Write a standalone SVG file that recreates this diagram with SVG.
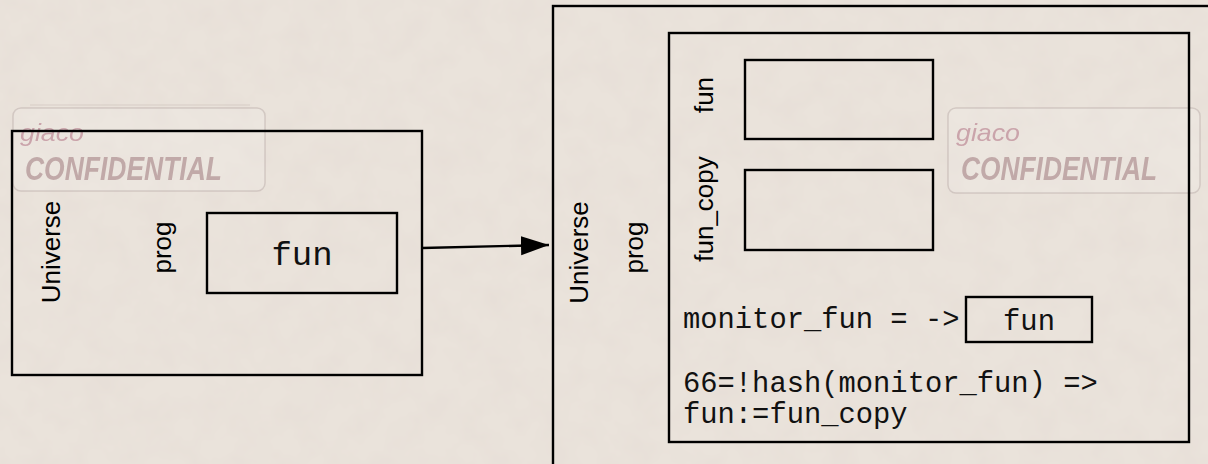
<svg xmlns="http://www.w3.org/2000/svg" width="1208" height="464" viewBox="0 0 1208 464">
  <style>
    .box { fill: none; stroke: #000; stroke-width: 2.4; }
    .lbl { font-family: "Liberation Sans", Arial, Helvetica, sans-serif; font-size: 26px; fill: #000; text-anchor: middle; }
    .code { font-family: "Liberation Mono", "Courier New", monospace; font-size: 28.8px; fill: #111; }
    .wm-box { fill: rgba(255,255,255,0.12); stroke: rgba(140,120,120,0.25); stroke-width: 1.5; }
    .wm-small { font-family: "Liberation Sans", Arial, sans-serif; font-style: italic; font-size: 24px; fill: #c3959f; opacity: 0.8; }
    .wm-big { font-family: "Liberation Sans", Arial, sans-serif; font-style: italic; font-weight: bold; font-size: 33px; fill: #b39697; opacity: 0.75; }
  </style>
  <defs>
    <filter id="grain" x="0" y="0" width="100%" height="100%">
      <feTurbulence type="fractalNoise" baseFrequency="0.035" numOctaves="3" seed="7"/>
      <feColorMatrix type="matrix" values="0 0 0 0 0.7  0 0 0 0 0.6  0 0 0 0 0.58  0.3 0 0 0 -0.1"/>
    </filter>
    <marker id="head" markerUnits="userSpaceOnUse" markerWidth="28" markerHeight="20" refX="28" refY="9.5" orient="auto">
      <path d="M0,0 L28,9.5 L0,19 Z" fill="#000"/>
    </marker>
  </defs>

  <!-- paper background -->
  <rect width="1208" height="464" fill="#eae3db"/>
  <rect width="1208" height="464" filter="url(#grain)"/>

  <!-- watermark stamps -->
  <g id="stamp-left">
    <line x1="30" y1="105" x2="250" y2="105" stroke="rgba(140,120,120,0.2)" stroke-width="1"/>
    <rect class="wm-box" x="13" y="108" width="252" height="83" rx="8"/>
    <text class="wm-small" x="20" y="141" textLength="64" lengthAdjust="spacingAndGlyphs">giaco</text>
    <text class="wm-big" x="25" y="180" textLength="197" lengthAdjust="spacingAndGlyphs">CONFIDENTIAL</text>
  </g>
  <g id="stamp-right">
    <rect class="wm-box" x="948" y="108" width="252" height="85" rx="8"/>
    <text class="wm-small" x="956" y="141" textLength="64" lengthAdjust="spacingAndGlyphs">giaco</text>
    <text class="wm-big" x="961" y="180" textLength="196" lengthAdjust="spacingAndGlyphs">CONFIDENTIAL</text>
  </g>

  <!-- before: universe containing prog with fun -->
  <g id="universe-before">
    <rect class="box" x="12" y="131" width="410" height="244"/>
    <text class="lbl" transform="translate(60,252) rotate(-90)">Universe</text>
  </g>
  <g id="prog-before">
    <text class="lbl" transform="translate(171,247.5) rotate(-90)">prog</text>
  </g>
  <g id="fun-before">
    <rect class="box" x="207" y="213" width="190" height="80"/>
    <text x="302" y="265" style="font-family: 'Liberation Mono', 'Courier New', monospace; font-size: 34px; text-anchor: middle; fill: #111;">fun</text>
  </g>

  <!-- transition -->
  <g id="connectors">
    <line x1="422" y1="248" x2="549" y2="245" stroke="#000" stroke-width="2.4" marker-end="url(#head)"/>
  </g>

  <!-- after: universe containing monitored prog -->
  <g id="universe-after">
    <rect class="box" x="553" y="6" width="700" height="500"/>
    <text class="lbl" transform="translate(588,252.5) rotate(-90)">Universe</text>
  </g>
  <g id="prog-after">
    <rect class="box" x="669" y="33" width="520" height="409"/>
    <text class="lbl" transform="translate(643,247.5) rotate(-90)">prog</text>
  </g>
  <g id="fun-slot">
    <rect class="box" x="745" y="60" width="188" height="79"/>
    <text class="lbl" transform="translate(713,95) rotate(-90)">fun</text>
  </g>
  <g id="fun-copy-slot">
    <rect class="box" x="745" y="170" width="188" height="80"/>
    <text class="lbl" transform="translate(713,209) rotate(-90)">fun_copy</text>
  </g>
  <g id="monitor">
    <text class="code" x="683" y="328">monitor_fun = -&gt;</text>
    <rect class="box" x="966" y="297" width="126" height="45"/>
    <text class="code" x="1029" y="330" text-anchor="middle">fun</text>
  </g>
  <g id="rule">
    <text class="code" x="683" y="392">66=!hash(monitor_fun) =&gt;</text>
    <text class="code" x="683" y="423">fun:=fun_copy</text>
  </g>
</svg>
